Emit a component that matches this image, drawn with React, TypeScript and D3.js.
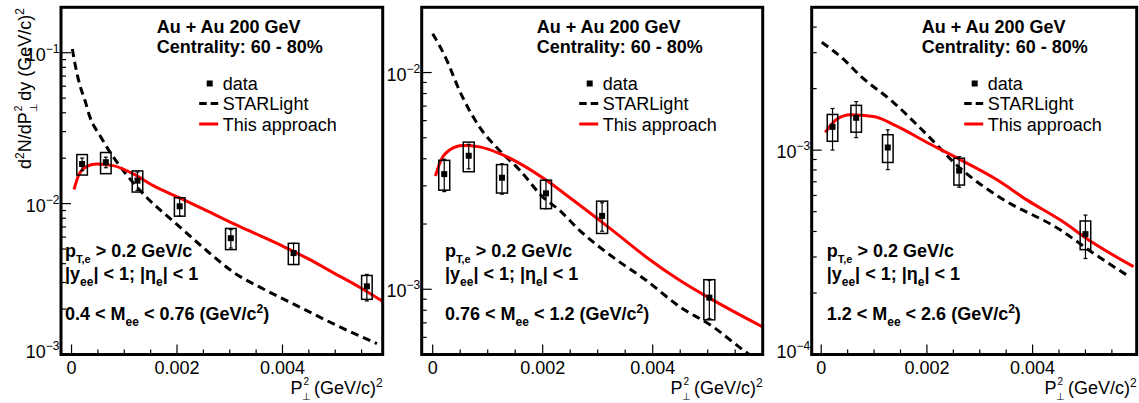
import React from "react";
import * as d3 from "d3";

// ---------- shared labels ----------
const massLow = ["0.4", "0.76", "1.2"];
const massHigh = ["0.76", "1.2", "2.6"];
const xTickLabels = [0, 0.002, 0.004];
const legendLabels = ["data", "STARLight", "This approach"];

// ---------- panel 1 : 0.4 < Mee < 0.76 ----------
const p1DataX = [0.0002, 0.00065, 0.00125, 0.00205, 0.00302, 0.00421, 0.0056];
const p1DataY = [0.0183, 0.0188, 0.0142, 0.0096, 0.0059, 0.0047, 0.00283];
const p1Stat = [0.095, 0.08, 0.14, 0.14, 0.14, 0.16, 0.2];
const p1Sys = [0.155, 0.16, 0.16, 0.14, 0.16, 0.16, 0.18];
const p1StarX = [0.000015, 0.000066, 0.000161, 0.000256, 0.00035, 0.00054, 0.00073, 0.00098, 0.0013, 0.00206, 0.00256, 0.00307, 0.0037, 0.00433, 0.00496, 0.00579];
const p1StarY = [0.106, 0.0841, 0.0604, 0.048, 0.0373, 0.0282, 0.0219, 0.01656, 0.0122, 0.00697, 0.00489, 0.00351, 0.00265, 0.00206, 0.0016, 0.00118];
const p1ModelX = [0.000047, 0.00013, 0.00029, 0.00048, 0.00079, 0.00117, 0.00155, 0.00206, 0.00256, 0.00307, 0.00357, 0.00402, 0.00452, 0.00496, 0.00547, 0.0059];
const p1ModelY = [0.0124, 0.0153, 0.01766, 0.0183, 0.01786, 0.01574, 0.01315, 0.01086, 0.00899, 0.00738, 0.00614, 0.00519, 0.00425, 0.00349, 0.00278, 0.00225];

// ---------- panel 2 : 0.76 < Mee < 1.2 ----------
const p2DataX = [0.00021, 0.000655, 0.00126, 0.00206, 0.00308, 0.00503];
const p2DataY = [0.0034, 0.00413, 0.00327, 0.00277, 0.00218, 0.000915];
const p2Stat = [0.17, 0.13, 0.16, 0.15, 0.15, 0.2];
const p2Sys = [0.157, 0.156, 0.15, 0.15, 0.17, 0.21];
const p2StarX = [0.0, 0.000243, 0.000485, 0.00085, 0.00121, 0.00158, 0.002, 0.0023, 0.00267, 0.00327, 0.00388, 0.00449, 0.00509, 0.00564, 0.0058];
const p2StarY = [0.0151, 0.0116, 0.00828, 0.00561, 0.00438, 0.00355, 0.00267, 0.00232, 0.00187, 0.00141, 0.0011, 0.000831, 0.000673, 0.000525, 0.00049];
const p2ModelX = [0.00005, 0.00015, 0.0003, 0.00055, 0.00085, 0.00121, 0.00158, 0.00206, 0.00255, 0.00327, 0.00388, 0.00449, 0.00509, 0.006];
const p2ModelY = [0.00333, 0.00394, 0.00438, 0.00461, 0.00454, 0.00424, 0.00381, 0.00319, 0.00258, 0.00187, 0.00141, 0.0011, 0.000893, 0.00067];

// ---------- panel 3 : 1.2 < Mee < 2.6 ----------
const p3DataX = [0.000214, 0.000662, 0.00126, 0.00261, 0.005];
const p3DataY = [0.0013, 0.00144, 0.00103, 0.000794, 0.000388];
const p3Stat = [0.23, 0.2, 0.22, 0.17, 0.24];
const p3Sys = [0.15, 0.15, 0.155, 0.15, 0.16];
const p3StarX = [0.00001, 0.00042, 0.00074, 0.00137, 0.002, 0.00263, 0.00339, 0.00452, 0.00515, 0.00578];
const p3StarY = [0.00337, 0.00279, 0.00231, 0.00171, 0.00119, 0.000815, 0.000585, 0.000408, 0.000313, 0.000245];
const p3ModelX = [0.000076, 0.0003, 0.00055, 0.00099, 0.00143, 0.002, 0.00263, 0.00332, 0.00389, 0.00452, 0.00515, 0.00591];
const p3ModelY = [0.00122, 0.00142, 0.00149, 0.00146, 0.00131, 0.00109, 0.000899, 0.000718, 0.000571, 0.000456, 0.000351, 0.000269];

const series = [
  { dataX: p1DataX, dataY: p1DataY, stat: p1Stat, sys: p1Sys, starX: p1StarX, starY: p1StarY, modelX: p1ModelX, modelY: p1ModelY },
  { dataX: p2DataX, dataY: p2DataY, stat: p2Stat, sys: p2Sys, starX: p2StarX, starY: p2StarY, modelX: p2ModelX, modelY: p2ModelY },
  { dataX: p3DataX, dataY: p3DataY, stat: p3Stat, sys: p3Sys, starX: p3StarX, starY: p3StarY, modelX: p3ModelX, modelY: p3ModelY },
];

// ---------- layout ----------
const W = 1139;
const H = 403;
const TOP = 7.3;
const BOTTOM = 354.5;
const FONT = "'Liberation Sans', Arial, Helvetica, sans-serif";
const FS = 18;

const layout = [
  { left: 61, right: 382.7, xDomain: [-0.0002, 0.0059], yDomain: [1e-3, 0.2], headX: 156.7, cutX: 65 },
  { left: 421.7, right: 762.7, xDomain: [-0.0002, 0.006], yDomain: [5e-4, 2e-2], headX: 536.7, cutX: 445 },
  { left: 811.7, right: 1136.7, xDomain: [-0.00018, 0.00597], yDomain: [1e-4, 5e-3], headX: 921.7, cutX: 826.7 },
];

function Panel({ i }: { i: number }) {
  const L = layout[i];
  const D = series[i];
  const x = d3.scaleLinear().domain(L.xDomain).range([L.left, L.right]);
  const y = d3.scaleLog().domain(L.yDomain).range([BOTTOM, TOP]);
  const line = d3
    .line<[number, number]>()
    .x((d) => x(d[0]))
    .y((d) => y(d[1]))
    .curve(d3.curveMonotoneX);
  const starPts = d3.zip(D.starX, D.starY) as [number, number][];
  const modelPts = d3.zip(D.modelX, D.modelY) as [number, number][];
  const clipId = `frameclip${i}`;

  // y ticks (log)
  const [y0, y1] = L.yDomain;
  const yTicks: { v: number; major: boolean; e: number }[] = [];
  const e0 = Math.floor(Math.log10(y0) + 1e-9);
  const e1 = Math.ceil(Math.log10(y1) - 1e-9);
  for (let e = e0; e <= e1; e++) {
    for (let k = 1; k <= 9; k++) {
      const v = k * Math.pow(10, e);
      if (v >= y0 * (1 - 1e-6) && v <= y1 * (1 + 1e-6)) yTicks.push({ v, major: k === 1, e });
    }
  }
  // x ticks
  const xTicks: { v: number; major: boolean }[] = [];
  for (let k = 0; k <= 20; k++) {
    const v = k * 0.0005;
    if (v <= L.xDomain[1] + 1e-9) xTicks.push({ v, major: k % 4 === 0 });
  }

  const hx = L.headX;
  const cx = L.cutX;

  return (
    <g>
      <defs>
        <clipPath id={clipId}>
          <rect x={L.left} y={TOP} width={L.right - L.left} height={BOTTOM - TOP} />
        </clipPath>
      </defs>

      {/* curves */}
      <g clipPath={`url(#${clipId})`}>
        <path d={line(starPts) || ""} fill="none" stroke="#000" strokeWidth={3} strokeDasharray="8,5" />
        <path d={line(modelPts) || ""} fill="none" stroke="#ff0000" strokeWidth={3} />
      </g>

      {/* data */}
      {D.dataX.map((dx, k) => {
        const v = D.dataY[k];
        const px = x(dx);
        const sysTop = y(v * (1 + D.sys[k]));
        const sysBot = y(v * (1 - D.sys[k]));
        const stTop = y(v * (1 + D.stat[k]));
        const stBot = y(v * (1 - D.stat[k]));
        const bx0 = x(dx - 0.0001);
        const bx1 = x(dx + 0.0001);
        return (
          <g key={k}>
            <rect x={bx0} y={sysTop} width={bx1 - bx0} height={sysBot - sysTop} fill="none" stroke="#000" strokeWidth={1.5} />
            <line x1={px} x2={px} y1={stTop} y2={stBot} stroke="#000" strokeWidth={1.2} />
            <line x1={px - 2} x2={px + 2} y1={stTop} y2={stTop} stroke="#000" strokeWidth={1.2} />
            <line x1={px - 2} x2={px + 2} y1={stBot} y2={stBot} stroke="#000" strokeWidth={1.2} />
            <rect x={px - 3} y={y(v) - 3} width={6} height={6} fill="#000" />
          </g>
        );
      })}

      {/* ticks */}
      {yTicks.map((t, k) => (
        <line key={"yt" + k} x1={L.left} x2={L.left + (t.major ? 10 : 5)} y1={y(t.v)} y2={y(t.v)} stroke="#000" strokeWidth={1.2} />
      ))}
      {xTicks.map((t, k) => (
        <line key={"xt" + k} x1={x(t.v)} x2={x(t.v)} y1={BOTTOM} y2={BOTTOM - (t.major ? 10 : 5)} stroke="#000" strokeWidth={1.2} />
      ))}

      {/* frame */}
      <rect x={L.left} y={TOP} width={L.right - L.left} height={BOTTOM - TOP} fill="none" stroke="#000" strokeWidth={3} />

      {/* y tick labels */}
      {yTicks
        .filter((t) => t.major)
        .map((t, k) => {
          const atBottom = Math.abs(t.v - y0) / y0 < 1e-6;
          return (
            <text key={"yl" + k} x={L.left - 1.5} y={y(t.v) + (atBottom ? 3.5 : 8)} textAnchor="end" fontSize={FS} fontFamily={FONT}>
              10<tspan dy={-8} fontSize={12}>{"\u2212" + Math.abs(t.e)}</tspan>
            </text>
          );
        })}

      {/* x tick labels */}
      {xTickLabels.map((v, k) => (
        <text key={"xl" + k} x={x(v)} y={BOTTOM + 19} textAnchor="middle" fontSize={FS} fontFamily={FONT}>
          {v === 0 ? "0" : v.toFixed(3)}
        </text>
      ))}

      {/* x title */}
      <text x={L.right} y={393.5} textAnchor="end" fontSize={FS} fontFamily={FONT}>
        P<tspan dy={6} fontSize={10}>⊥</tspan>
        <tspan dx={-8} dy={-15} fontSize={10}>2</tspan>
        <tspan dy={9}> (GeV/c)</tspan>
        <tspan dy={-7} fontSize={12}>2</tspan>
      </text>

      {/* header */}
      <text x={hx} y={33} fontSize={FS} fontWeight="bold" fontFamily={FONT}>Au + Au 200 GeV</text>
      <text x={hx} y={53.3} fontSize={FS} fontWeight="bold" fontFamily={FONT}>Centrality: 60 - 80%</text>

      {/* legend */}
      <rect x={hx + 50} y={80.5} width={6} height={6} fill="#000" />
      <text x={hx + 66} y={89.5} fontSize={FS} fontFamily={FONT}>{legendLabels[0]}</text>
      <line x1={hx + 42.5} x2={hx + 61.5} y1={103.5} y2={103.5} stroke="#000" strokeWidth={3} strokeDasharray="7.5,4" />
      <text x={hx + 66} y={110} fontSize={FS} fontFamily={FONT}>{legendLabels[1]}</text>
      <line x1={hx + 42.5} x2={hx + 61.5} y1={124} y2={124} stroke="#ff0000" strokeWidth={3} />
      <text x={hx + 66} y={130.5} fontSize={FS} fontFamily={FONT}>{legendLabels[2]}</text>

      {/* cuts */}
      <text x={cx} y={256.7} fontSize={FS} fontWeight="bold" fontFamily={FONT}>
        p<tspan dy={6} fontSize={11}>T,e</tspan>
        <tspan dy={-6}> &gt; 0.2 GeV/c</tspan>
      </text>
      <text x={cx} y={280} fontSize={FS} fontWeight="bold" fontFamily={FONT}>
        |y<tspan dy={6} fontSize={12}>ee</tspan>
        <tspan dy={-6}>| &lt; 1; |η</tspan>
        <tspan dy={6} fontSize={12}>e</tspan>
        <tspan dy={-6}>| &lt; 1</tspan>
      </text>
      <text x={cx} y={320} fontSize={FS} fontWeight="bold" fontFamily={FONT}>
        {massLow[i]} &lt; M<tspan dy={6} fontSize={12}>ee</tspan>
        <tspan dy={-6}>{" < " + massHigh[i] + " (GeV/c"}</tspan>
        <tspan dy={-7} fontSize={12}>2</tspan>
        <tspan dy={7}>)</tspan>
      </text>

      {/* y title (first panel only) */}
      {i === 0 && (
        <text transform="translate(31,8) rotate(-90)" textAnchor="end" fontSize={FS} fontFamily={FONT}>
          d<tspan dy={-7} fontSize={12}>2</tspan>
          <tspan dy={7}>N/dP</tspan>
          <tspan dy={6} fontSize={10}>⊥</tspan>
          <tspan dx={-8} dy={-15} fontSize={10}>2</tspan>
          <tspan dy={9}> dy (GeV/c)</tspan>
          <tspan dy={-7} fontSize={12}>2</tspan>
        </text>
      )}
    </g>
  );
}

export default function App() {
  return (
    <svg
      width={W}
      height={H}
      viewBox={`0 0 ${W} ${H}`}
      style={{ position: "absolute", left: 0, top: 0, background: "#fff" }}
    >
      <rect x={0} y={0} width={W} height={H} fill="#fff" />
      {layout.map((_, i) => (
        <Panel key={i} i={i} />
      ))}
    </svg>
  );
}
